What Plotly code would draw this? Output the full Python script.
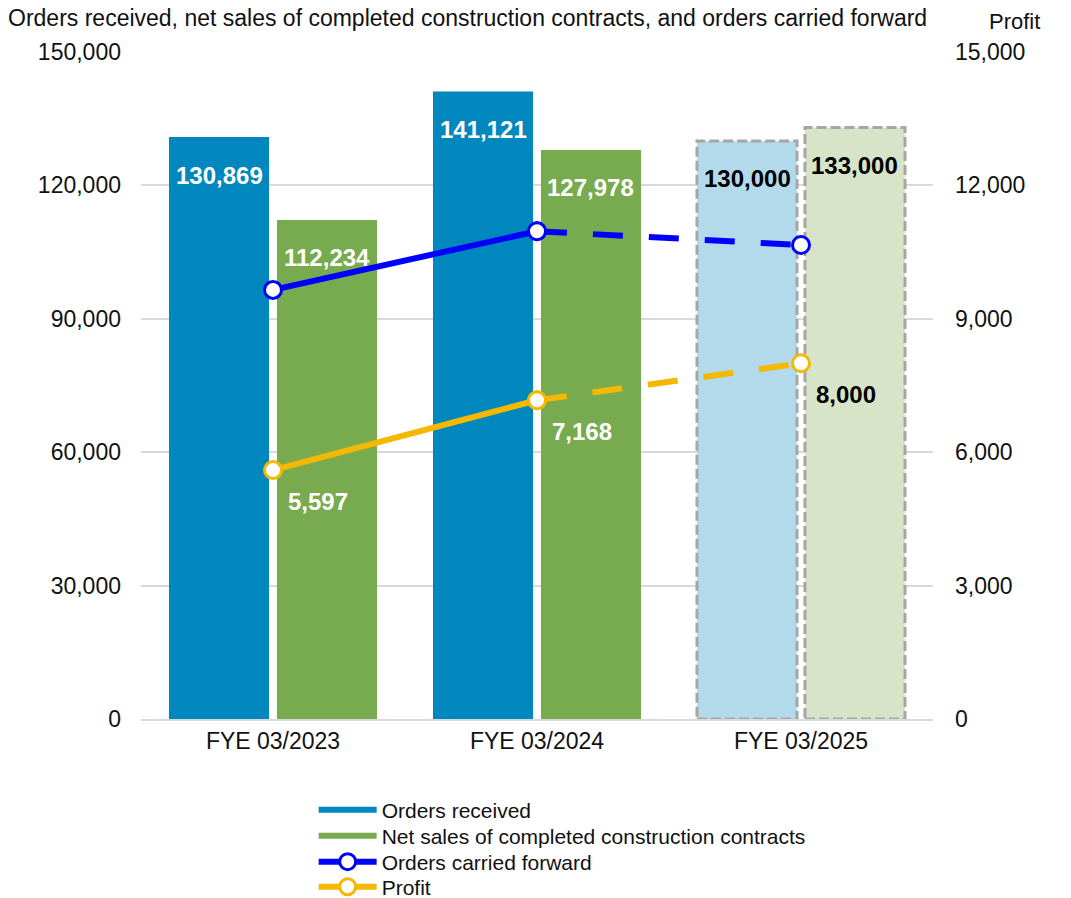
import plotly.graph_objects as go

categories = ["FYE 03/2023", "FYE 03/2024", "FYE 03/2025"]
orders_received = [130869, 141121, 130000]
net_sales = [112234, 127978, 133000]
orders_carried_forward = [96500, 109700, 106600]
profit = [5597, 7168, 8000]
forecast = [False, False, True]
left_ticks = [0, 30000, 60000, 90000, 120000, 150000]
right_ticks = [0, 3000, 6000, 9000, 12000, 15000]

FONT = "Liberation Sans, Arial, sans-serif"
C_BLUE = "#0087BD"
C_GREEN = "#78AA50"
C_LBLUE = "#B3DAEA"
C_LGREEN = "#D7E4C8"
C_BORDER = "#A6A6A6"
C_LINE = "#0000FF"
C_PROFIT = "#F5B800"

xpos = list(range(len(categories)))
W = 0.379
OFF_A = -0.394
OFF_B = 0.015

fig = go.Figure()

# legend-only entries for bars (drawn as thick lines like the reference)
fig.add_trace(go.Scatter(x=[None], y=[None], mode="lines", name="Orders received",
                         line=dict(color=C_BLUE, width=6), legend="legend"))
fig.add_trace(go.Scatter(x=[None], y=[None], mode="lines",
                         name="Net sales of completed construction contracts",
                         line=dict(color=C_GREEN, width=6), legend="legend2"))

fig.add_trace(go.Bar(x=xpos, y=orders_received, width=W, offset=OFF_A,
                     marker=dict(color=[C_LBLUE if f else C_BLUE for f in forecast], line=dict(width=0)),
                     showlegend=False, name="Orders received"))
fig.add_trace(go.Bar(x=xpos, y=net_sales, width=W, offset=OFF_B,
                     marker=dict(color=[C_LGREEN if f else C_GREEN for f in forecast], line=dict(width=0)),
                     showlegend=False, name="Net sales"))

# dashed borders for forecast bars
for i, f in enumerate(forecast):
    if not f:
        continue
    for off, vals in ((OFF_A, orders_received), (OFF_B, net_sales)):
        x0, x1, v = i + off, i + off + W, vals[i]
        fig.add_trace(go.Scatter(x=[x0, x1, x1, x0, x0], y=[0, 0, v, v, 0], mode="lines",
                                 line=dict(color=C_BORDER, width=3, dash="10px,4px"),
                                 showlegend=False, hoverinfo="skip"))

marker_ocf = dict(size=17, color="white", line=dict(color=C_LINE, width=3))
marker_pr = dict(size=17, color="white", line=dict(color=C_PROFIT, width=3))

# Orders carried forward: solid actual, dashed forecast
fig.add_trace(go.Scatter(x=xpos[1:], y=orders_carried_forward[1:], mode="lines+markers",
                         line=dict(color=C_LINE, width=6, dash="30px,26px"), marker=marker_ocf,
                         showlegend=False))
fig.add_trace(go.Scatter(x=xpos[:2], y=orders_carried_forward[:2], mode="lines+markers",
                         line=dict(color=C_LINE, width=6), marker=marker_ocf,
                         name="Orders carried forward", legend="legend3"))

# Profit on right axis
fig.add_trace(go.Scatter(x=xpos[1:], y=profit[1:], mode="lines+markers", yaxis="y2",
                         line=dict(color=C_PROFIT, width=6, dash="30px,26px"), marker=marker_pr,
                         showlegend=False))
fig.add_trace(go.Scatter(x=xpos[:2], y=profit[:2], mode="lines+markers", yaxis="y2",
                         line=dict(color=C_PROFIT, width=6), marker=marker_pr,
                         name="Profit", legend="legend4"))

annotations = []
for i in xpos:
    col = "black" if forecast[i] else "white"
    for off, vals in ((OFF_A, orders_received), (OFF_B, net_sales)):
        annotations.append(dict(x=i + off + W / 2, y=vals[i], xref="x", yref="y",
                                text=f"{vals[i]:,}", showarrow=False, yshift=-38,
                                font=dict(family=FONT, size=24, color=col, weight="bold")))
    annotations.append(dict(x=i, y=profit[i], xref="x", yref="y2", text=f"{profit[i]:,}",
                            showarrow=False, xshift=45, yshift=-31,
                            font=dict(family=FONT, size=24, color=col, weight="bold")))

annotations.append(dict(x=-0.171, y=1.051, xref="paper", yref="paper", xanchor="left", yanchor="middle",
                        text="Orders received, net sales of completed construction contracts, and orders carried forward",
                        showarrow=False, font=dict(family=FONT, size=23, color="#111")))
annotations.append(dict(x=1.1376, y=1.046, xref="paper", yref="paper", xanchor="right", yanchor="middle",
                        text="Profit", showarrow=False, font=dict(family=FONT, size=22, color="#111")))

def leg(ycenter):
    return dict(x=0.218, y=ycenter, xanchor="left", yanchor="middle",
                font=dict(family=FONT, size=21, color="#111"), bgcolor="rgba(0,0,0,0)",
                itemwidth=58)

fig.update_layout(
    width=1071, height=898,
    margin=dict(l=141, r=138, t=52, b=179, autoexpand=False),
    paper_bgcolor="white", plot_bgcolor="white",
    barmode="overlay",
    font=dict(family=FONT, size=23, color="#111"),
    xaxis=dict(range=[-0.5, 2.5], tickvals=xpos, ticktext=categories, showgrid=False,
               zeroline=False, showline=True, linecolor="#D9D9D9", linewidth=2,
               ticks="", tickfont=dict(size=23)),
    yaxis=dict(range=[0, 150000], tickvals=left_ticks, tickformat=",", showgrid=True,
               gridcolor="#D9D9D9", gridwidth=2, zeroline=False, ticks="",
               ticklabelstandoff=19, tickfont=dict(size=23)),
    yaxis2=dict(range=[0, 15000], tickvals=right_ticks, tickformat=",", overlaying="y",
                side="right", showgrid=False, zeroline=False, ticks="",
                ticklabelstandoff=21, tickfont=dict(size=23)),
    legend=leg(-0.1364),
    legend2=leg(-0.1754),
    legend3=leg(-0.2144),
    legend4=leg(-0.2519),
    annotations=annotations,
    showlegend=True,
)

fig.write_html("out.html")
